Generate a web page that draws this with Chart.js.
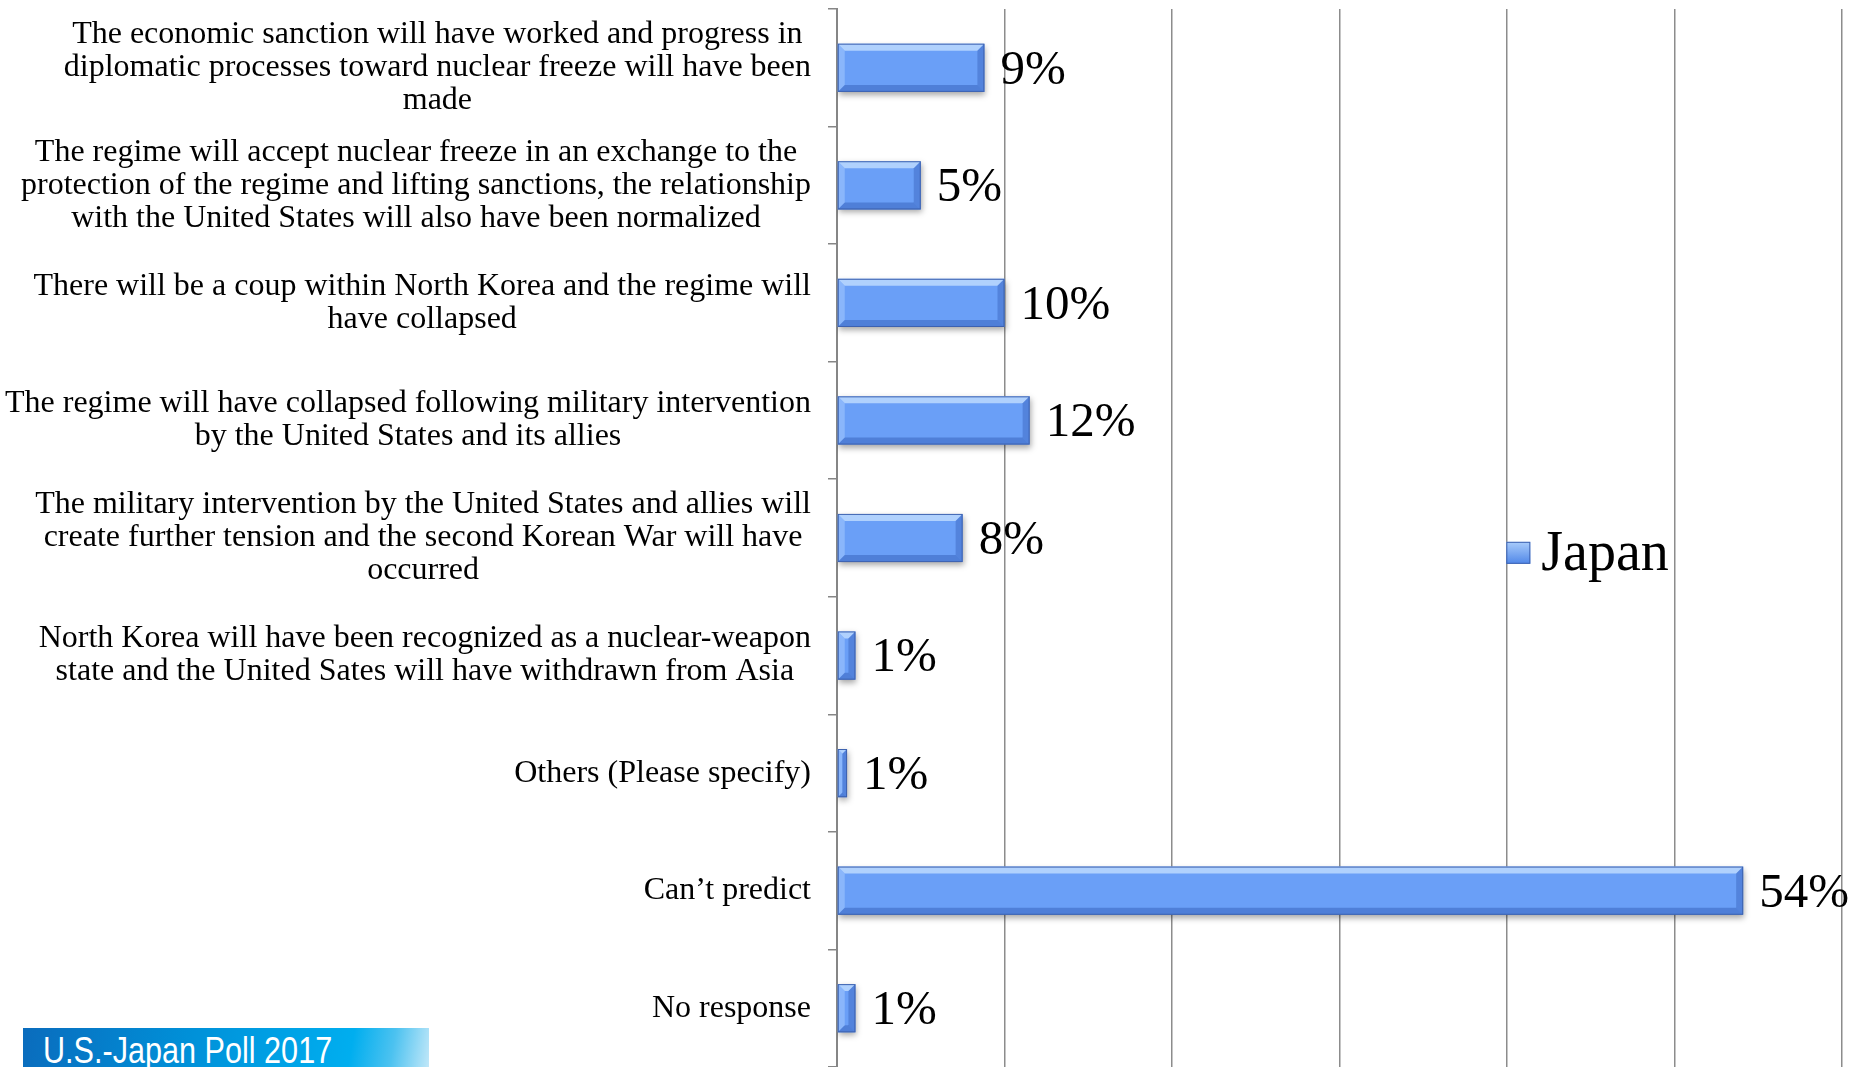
<!DOCTYPE html>
<html lang="en">
<head>
<meta charset="UTF-8">
<title>U.S.-Japan Poll 2017</title>
<script src="https://cdn.jsdelivr.net/npm/chart.js"></script>
<style>
  html, body { margin: 0; padding: 0; background: #fff; overflow: hidden; }
  #wrap { position: relative; width: 1862px; height: 1067px; }
  #banner {
    position: absolute; left: 23px; top: 1028px; width: 406px; height: 50px;
    background: linear-gradient(100deg, #0a6cbd 0%, #0090d8 40%, #00aeef 80%, #4cc2f0 90%, #c6e9f9 100%);
    color: #fff; font-family: "Liberation Sans Narrow", "Liberation Sans", Arial, sans-serif;
    font-size: 36px; line-height: 36px; padding-left: 20px; box-sizing: border-box; padding-top: 5px;
    white-space: nowrap;
  }
  #banner span { display: inline-block; transform: scaleX(0.85); transform-origin: left center; }
</style>
</head>
<body>
<div id="wrap">
  <canvas id="myChart" width="1862" height="1067"></canvas>
  <div id="banner"><span>U.S.-Japan Poll 2017</span></div>
</div>
<script>
// categories (each entry = lines of the label)
const categories = [
  ["The economic sanction will have worked and progress in", "diplomatic processes toward nuclear freeze will have been", "made"],
  ["The regime will accept nuclear freeze in an exchange to the", "protection of the regime and lifting sanctions, the relationship", "with the United States will also have been normalized"],
  ["There will be a coup within North Korea and the regime will", "have collapsed"],
  ["The regime will have collapsed following military intervention", "by the United States and its allies"],
  ["The military intervention by the United States and allies will", "create further tension and the second Korean War will have", "occurred"],
  ["North Korea will have been recognized as a nuclear-weapon", "state and the United Sates will have withdrawn from Asia"],
  ["Others (Please specify)"],
  ["Can\u2019t predict"],
  ["No response"]
];
// bar lengths as drawn, and the rounded labels printed next to them
const japanValues = [8.8, 5.0, 10.0, 11.5, 7.5, 1.1, 0.6, 54.1, 1.1];
const japanLabels = ["9%", "5%", "10%", "12%", "8%", "1%", "1%", "54%", "1%"];
const seriesName = "Japan";
const xTicks = [0, 10, 20, 30, 40, 50, 60];

const serif = '"Liberation Serif", "DejaVu Serif", serif';

// draws the category labels: each block right aligned, its lines centered
const categoryLabels = {
  id: 'categoryLabels',
  afterDraw(chart) {
    const ctx = chart.ctx;
    const yScale = chart.scales.y;
    const right = yScale.right - 26;
    const lineH = 33;
    ctx.save();
    ctx.font = '32px ' + serif;
    ctx.fillStyle = '#000';
    ctx.textAlign = 'center';
    ctx.textBaseline = 'middle';
    categories.forEach((lines, i) => {
      const w = Math.max(...lines.map(l => ctx.measureText(l).width));
      const cx = right - w / 2;
      const cy = yScale.getPixelForValue(i);
      const top = cy - (lines.length - 1) * lineH / 2;
      lines.forEach((l, k) => ctx.fillText(l, cx, top + k * lineH));
    });
    ctx.restore();
  }
};

// bevel look + value labels on the bars
const barDecor = {
  id: 'barDecor',
  beforeDatasetDraw(chart) {
    const ctx = chart.ctx;
    ctx.save();
    ctx.shadowColor = 'rgba(0,0,0,0.35)';
    ctx.shadowBlur = 6;
    ctx.shadowOffsetY = 3;
    ctx.shadowOffsetX = 1;
  },
  afterDatasetDraw(chart) {
    const ctx = chart.ctx;
    ctx.restore();
    const meta = chart.getDatasetMeta(0);
    ctx.save();
    meta.data.forEach((bar, i) => {
      const l = bar.base, r = bar.x, t = bar.y - bar.height / 2, b = bar.y + bar.height / 2;
      const bv = Math.min(7, (r - l) / 2);
      // top
      ctx.fillStyle = 'rgba(200,225,255,0.75)';
      ctx.beginPath(); ctx.moveTo(l, t); ctx.lineTo(r, t); ctx.lineTo(r - bv, t + bv); ctx.lineTo(l + bv, t + bv); ctx.closePath(); ctx.fill();
      // left
      ctx.fillStyle = 'rgba(170,205,255,0.5)';
      ctx.beginPath(); ctx.moveTo(l, t); ctx.lineTo(l + bv, t + bv); ctx.lineTo(l + bv, b - bv); ctx.lineTo(l, b); ctx.closePath(); ctx.fill();
      // right
      ctx.fillStyle = 'rgba(40,80,170,0.35)';
      ctx.beginPath(); ctx.moveTo(r, t); ctx.lineTo(r - bv, t + bv); ctx.lineTo(r - bv, b - bv); ctx.lineTo(r, b); ctx.closePath(); ctx.fill();
      // bottom
      ctx.fillStyle = 'rgba(40,80,170,0.4)';
      ctx.beginPath(); ctx.moveTo(l, b); ctx.lineTo(r, b); ctx.lineTo(r - bv, b - bv); ctx.lineTo(l + bv, b - bv); ctx.closePath(); ctx.fill();
      ctx.strokeStyle = '#3d62b0';
      ctx.lineWidth = 1;
      ctx.strokeRect(l + 0.5, t + 0.5, r - l - 1, b - t - 1);
      // value label
      ctx.fillStyle = '#000';
      ctx.font = '49px ' + serif;
      ctx.textAlign = 'left';
      ctx.textBaseline = 'middle';
      ctx.fillText(japanLabels[i], r + 16, bar.y + 3);
    });
    ctx.restore();
  }
};

// legend drawn inside the plot area, like the original
const insideLegend = {
  id: 'insideLegend',
  afterDraw(chart) {
    const ctx = chart.ctx;
    const a = chart.chartArea;
    const x = a.left + (a.right - a.left) * 0.666;
    const y = a.top + (a.bottom - a.top) * 0.514;
    ctx.save();
    const g = ctx.createLinearGradient(x, y - 11, x, y + 11);
    g.addColorStop(0, '#a9ccfb');
    g.addColorStop(1, '#5087e8');
    ctx.fillStyle = g;
    ctx.fillRect(x, y - 11, 24, 22);
    ctx.strokeStyle = '#3d62b0';
    ctx.strokeRect(x + 0.5, y - 10.5, 23, 21);
    ctx.fillStyle = '#000';
    ctx.font = '56px ' + serif;
    ctx.textBaseline = 'middle';
    ctx.fillText(seriesName, x + 35, y + 2);
    ctx.restore();
  }
};

new Chart(document.getElementById('myChart'), {
  type: 'bar',
  data: {
    labels: categories,
    datasets: [{
      label: seriesName,
      data: japanValues,
      backgroundColor: '#6a9ff7',
      borderColor: '#3d62b0',
      borderWidth: 0,
      barPercentage: 0.41,
      categoryPercentage: 1
    }]
  },
  options: {
    indexAxis: 'y',
    responsive: false,
    animation: false,
    layout: { padding: { left: 0, right: 20, top: 9, bottom: 0 } },
    plugins: {
      legend: { display: false },
      tooltip: { enabled: false }
    },
    scales: {
      x: {
        min: xTicks[0],
        max: xTicks[xTicks.length - 1],
        afterBuildTicks(scale) { scale.ticks = xTicks.map(v => ({ value: v })); },
        ticks: { display: false },
        grid: { color: '#8c8c8c', lineWidth: 1.5, drawTicks: false },
        border: { display: false }
      },
      y: {
        ticks: { display: false },
        afterFit(scale) { scale.width = 837; },
        grid: { offset: true, drawOnChartArea: false, drawTicks: true, tickLength: 9, color: '#868686', lineWidth: 1.5 },
        border: { display: true, color: '#868686', width: 2 }
      }
    }
  },
  plugins: [categoryLabels, barDecor, insideLegend]
});
</script>
</body>
</html>
